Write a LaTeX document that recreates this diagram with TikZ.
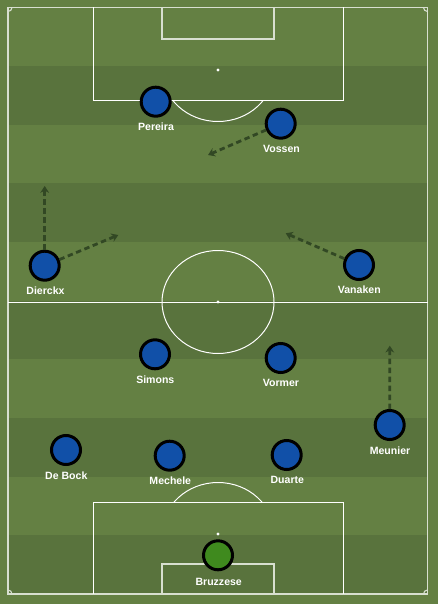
\documentclass[tikz,border=0pt]{standalone}
\usepackage{fontspec}
\setmainfont{Liberation Sans}
\usetikzlibrary{arrows.meta}

\definecolor{grasslight}{RGB}{100,128,67}
\definecolor{grassdark}{RGB}{89,115,61}
\definecolor{shirtblue}{RGB}{17,80,168}
\definecolor{keepergreen}{RGB}{63,138,30}
\definecolor{runcolor}{RGB}{50,72,36}

\tikzset{
  player/.style={circle, draw=black, line width=1.5mm, fill=shirtblue, minimum size=14.5mm, inner sep=0pt},
  keeper/.style={player, fill=keepergreen},
  tag/.style={text=white, font=\fontsize{15}{17}\selectfont\bfseries, inner sep=0pt},
  run/.style={runcolor, line width=1.4mm, dash pattern=on 2.7mm off 1.8mm, -{Stealth[length=3.4mm,width=4.4mm]}},
  pitchline/.style={white, line width=0.5mm},
  touchline/.style={white!75!grasslight, line width=0.55mm}
}

\begin{document}
\begin{tikzpicture}[x=0.5mm, y=-0.5mm]
    \useasboundingbox (0,0) rectangle (438,604);
    \fill[grasslight] (0,0) rectangle (438,604);
    \foreach \i in {1,3,5,7,9}
      \fill[grassdark] (8,7.5+58.65*\i) rectangle (427.5,7.5+58.65*\i+58.65);

    % markings
    \draw[touchline] (8,7.5) rectangle (427.5,594);
    \draw[pitchline] (8,302) -- (427.5,302);
    \draw[pitchline] (218,302) ellipse [x radius=56, y radius=51.5];
    \fill[white] (218,302) circle [radius=1.6];
    \draw[pitchline] (93,7.5) |- (343,101) -- (343,7.5);
    \draw[touchline] (162,7.5) |- (274,39) -- (274,7.5);
    \fill[white] (218,70) circle [radius=1.6];
    \begin{scope}
      \clip (0,101) rectangle (438,200);
      \draw[pitchline] (218,70) ellipse [x radius=56, y radius=51.5];
    \end{scope}
    \draw[pitchline] (93,594) |- (343,502) -- (343,594);
    \draw[touchline] (162,594) |- (274,564) -- (274,594);
    \fill[white] (218,534) circle [radius=1.6];
    \begin{scope}
      \clip (0,400) rectangle (438,502);
      \draw[pitchline] (218,534) ellipse [x radius=56, y radius=51.5];
    \end{scope}
    \draw[touchline] (8,11.5) arc [start angle=90, end angle=0, radius=4];
    \draw[touchline] (423.5,7.5) arc [start angle=180, end angle=90, radius=4];
    \draw[touchline] (8,590) arc [start angle=-90, end angle=0, radius=4];
    \draw[touchline] (423.5,594) arc [start angle=180, end angle=270, radius=4];

    % players
    \node[player] (pereira) at (155.7,101.7) {};
    \node[player] (vossen) at (280.7,123.7) {};
    \node[player] (dierckx) at (44.7,265.7) {};
    \node[player] (vanaken) at (359,265) {};
    \node[player] (simons) at (155,354.3) {};
    \node[player] (vormer) at (280.7,358) {};
    \node[player] (meunier) at (389.7,425) {};
    \node[player] (debock) at (66,450) {};
    \node[player] (mechele) at (169.7,455.7) {};
    \node[player] (duarte) at (286.7,455) {};
    \node[keeper] (bruzzese) at (218,555.3) {};

    \node[tag] (pereiraname) at (156,127) {Pereira};
    \node[tag] (vossenname) at (281.5,149) {Vossen};
    \node[tag] (dierckxname) at (45.5,290.7) {Dierckx};
    \node[tag] (vanakenname) at (359.3,290) {Vanaken};
    \node[tag] (simonsname) at (155.3,380) {Simons};
    \node[tag] (vormername) at (281,383) {Vormer};
    \node[tag] (meuniername) at (390,450.3) {Meunier};
    \node[tag] (debockname) at (66.3,475.3) {De Bock};
    \node[tag] (mechelename) at (170.3,481) {Mechele};
    \node[tag] (duartename) at (287.3,480.3) {Duarte};
    \node[tag] (bruzzesename) at (218.7,581.7) {Bruzzese};

    % runs
    \coordinate (vossenrun) at (208,155);
    \coordinate (dierckxup) at (44.7,186);
    \coordinate (dierckxin) at (118.3,235);
    \coordinate (vanakenin) at (285.7,233.3);
    \coordinate (meunierup) at (389.8,345.7);
    \draw[run] (vossen) -- (vossenrun);
    \draw[run] (dierckx) -- (dierckxup);
    \draw[run] (dierckx) -- (dierckxin);
    \draw[run] (vanaken) -- (vanakenin);
    \draw[run] (meunier) -- (meunierup);
\end{tikzpicture}
\end{document}
